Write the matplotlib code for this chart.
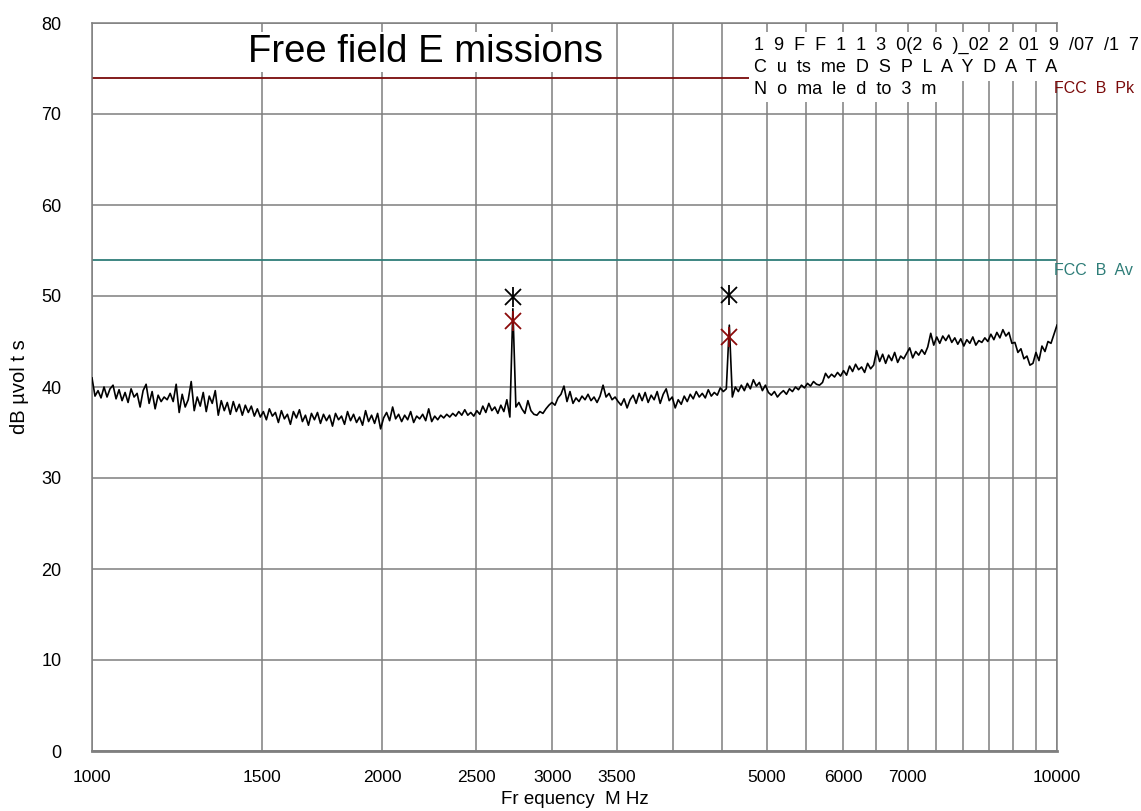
import numpy as np
import matplotlib
matplotlib.use("Agg")
import matplotlib.pyplot as plt
from matplotlib.ticker import FixedLocator, FixedFormatter, NullLocator

plt.rcParams['font.family'] = ['Liberation Sans', 'DejaVu Sans']

# ---------------- data ----------------
f_start, f_stop = 1000, 10000  # MHz sweep limits
levels = [
    41.0, 39.0, 39.6, 38.8, 40.0, 38.9, 39.8, 40.2, 38.7, 39.7,
    38.5, 39.4, 38.3, 39.8, 38.9, 39.3, 37.8, 39.6, 40.3, 38.2,
    39.5, 37.6, 39.1, 38.4, 38.9, 38.6, 39.3, 38.4, 40.3, 37.2,
    39.2, 37.8, 38.6, 40.6, 37.4, 38.9, 37.9, 39.4, 37.3, 39.0,
    38.2, 39.6, 36.9, 38.5, 37.4, 38.3, 37.0, 38.4, 37.3, 38.1,
    36.9, 38.0, 37.2, 37.9, 36.8, 37.6, 36.7, 37.3, 36.4, 37.6,
    36.8, 37.2, 36.1, 37.4, 36.5, 37.0, 35.9, 37.3, 36.6, 37.5,
    36.2, 36.9, 35.8, 37.1, 36.4, 37.2, 36.0, 37.0, 36.3, 36.9,
    35.7, 37.1, 36.4, 36.8, 35.9, 37.3, 36.3, 37.0, 36.1, 36.7,
    35.8, 37.4, 36.2, 36.9, 36.0, 37.1, 35.4, 36.6, 37.2, 36.3,
    37.8, 36.5, 37.0, 36.2, 36.9, 36.4, 37.3, 36.1, 36.8, 36.5,
    37.0, 36.3, 37.6, 36.2, 36.8, 36.4, 36.9, 36.6, 37.0, 36.7,
    37.1, 36.8, 37.3, 36.9, 37.5, 36.9, 37.2, 36.8, 37.4, 37.0,
    37.9, 37.2, 38.2, 37.4, 37.8, 37.1, 38.0, 37.3, 38.6, 36.7,
    48.6, 37.8, 38.3, 37.6, 37.1, 38.5, 37.4, 37.0, 36.9, 37.3,
    37.1, 37.6, 38.0, 38.3, 38.0, 38.8, 39.2, 40.1, 38.4, 39.5,
    38.2, 38.8, 38.4, 39.0, 38.6, 39.2, 38.5, 38.9, 38.3, 39.0,
    40.2, 38.9, 39.3, 38.6, 38.9, 38.4, 38.0, 38.7, 37.7, 38.6,
    39.1, 38.2, 39.3, 38.5, 39.4, 38.3, 39.1, 38.6, 39.5, 38.2,
    39.2, 39.8, 38.5, 38.9, 37.7, 38.6, 38.1, 39.0, 38.4, 39.2,
    38.7, 39.5, 38.9, 39.3, 38.8, 39.7, 39.0, 39.4, 39.1, 39.9,
    39.5, 39.8, 46.8, 38.9, 40.0, 39.5, 40.2, 39.6, 40.4, 39.8,
    40.8, 40.1, 40.5, 39.6, 40.2, 39.4, 39.1, 39.5, 38.9, 39.3,
    39.6, 39.2, 39.8, 39.5, 40.0, 39.7, 40.2, 39.9, 40.4, 40.1,
    40.6, 40.3, 40.2, 40.5, 41.5, 41.0, 41.4, 41.1, 41.6, 41.2,
    41.8, 41.3, 42.3, 41.7, 42.5, 41.9, 42.2, 41.6, 42.6, 42.0,
    42.4, 44.0, 42.8, 43.6, 42.6, 43.5, 42.9, 43.8, 42.7, 43.4,
    43.1, 43.7, 44.3, 43.2, 43.9, 43.5, 44.1, 43.6, 44.4, 45.9,
    44.6, 45.5, 44.8, 45.6, 45.1, 45.7, 44.9, 45.4, 44.7, 45.3,
    44.5, 45.2, 44.8, 45.5, 44.6, 45.1, 44.9, 45.4, 45.0, 45.8,
    45.2, 46.0, 45.4, 46.3, 45.6, 46.0, 44.8, 44.9, 43.8, 44.2,
    43.1, 43.4, 42.4, 42.6, 43.8, 42.9, 44.5, 43.9, 45.0, 44.8,
    45.8, 46.8,
]
freqs = np.geomspace(f_start, f_stop, len(levels))

peak_freqs = [2730, 4575]
peak_pk = [49.9, 50.1]
peak_av = [47.3, 45.5]

fcc_pk_limit = 74
fcc_av_limit = 54

grid_freqs = list(range(1000, 10001, 500))
labelled = [1000, 1500, 2000, 2500, 3000, 3500, 5000, 6000, 7000, 10000]
y_ticks = list(range(0, 81, 10))

title = "Free field E missions"
header_rows = [
    "1  9  F  F  1  1  3  0(2  6  )_02  2  01  9  /07  /1  7",
    "C  u  ts  me  D  S  P  L  A  Y  D  A  T  A",
    "N  o  ma  le  d  to  3  m",
]
xlabel = "Fr equency  M Hz"
ylabel = "dB µvol t s"

# ---------------- figure ----------------
W, H = 1141, 811
fig = plt.figure(figsize=(W / 100, H / 100), dpi=100)
ax = fig.add_axes([92 / W, 1 - 751 / H, (1057 - 92) / W, (751 - 23) / H])

ax.set_xscale('log')
ax.set_xlim(f_start, f_stop)
ax.set_ylim(0, 80)

gray = '#7f7f7f'
ax.xaxis.set_major_locator(FixedLocator(grid_freqs))
ax.xaxis.set_major_formatter(FixedFormatter([str(f) if f in labelled else '' for f in grid_freqs]))
ax.xaxis.set_minor_locator(NullLocator())
ax.set_yticks(y_ticks)
ax.grid(True, which='major', color=gray, linewidth=1.1, zorder=0)
ax.set_axisbelow(True)
ax.tick_params(axis='x', length=0, pad=14, labelsize=12.5)
ax.tick_params(axis='y', length=0, pad=22, labelsize=13)
for s in ax.spines.values():
    s.set_color(gray)
    s.set_linewidth(1.1)
ax.spines['bottom'].set_linewidth(2.0)

# limit lines
red = '#7a0a0a'
teal = '#2e7d78'
ax.axhline(fcc_pk_limit, color=red, lw=1.3, zorder=2)
ax.axhline(fcc_av_limit, color=teal, lw=1.3, zorder=2)
ax.text(0.9965, fcc_pk_limit - 0.4, "FCC  B  Pk", transform=ax.get_yaxis_transform(),
        color=red, fontsize=11.5, ha='left', va='top', clip_on=False)
ax.text(0.9965, fcc_av_limit - 0.4, "FCC  B  Av", transform=ax.get_yaxis_transform(),
        color=teal, fontsize=11.5, ha='left', va='top', clip_on=False)

# trace
ax.plot(freqs, levels, color='black', lw=1.2, zorder=3)

# markers: X with a vertical bar
for vals, col in ((peak_pk, 'black'), (peak_av, '#8b0a0a')):
    ax.plot(peak_freqs, vals, linestyle='none', marker='x', markersize=11.5,
            markeredgewidth=1.3, color=col, zorder=4)
    ax.plot(peak_freqs, vals, linestyle='none', marker='|', markersize=15,
            markeredgewidth=1.3, color=col, zorder=4)

# title & header
ax.text((426 - 92) / 965, (751 - 52) / 728, title, transform=ax.transAxes,
        fontsize=27.5, ha='center', va='center', zorder=5,
        bbox=dict(facecolor='white', edgecolor='none', pad=1.5))
row_y = [45, 68, 89]
for txt, py in zip(header_rows, row_y):
    ax.text((754 - 92) / 965, (751 - py) / 728, txt, transform=ax.transAxes,
            fontsize=13, ha='left', va='center', zorder=5, clip_on=False,
            bbox=dict(facecolor='white', edgecolor='none', pad=3.5))

ax.set_xlabel(xlabel, fontsize=13.5, labelpad=4)
ax.set_ylabel(ylabel, fontsize=14.5, labelpad=9)

fig.savefig("out.png", dpi=100)
